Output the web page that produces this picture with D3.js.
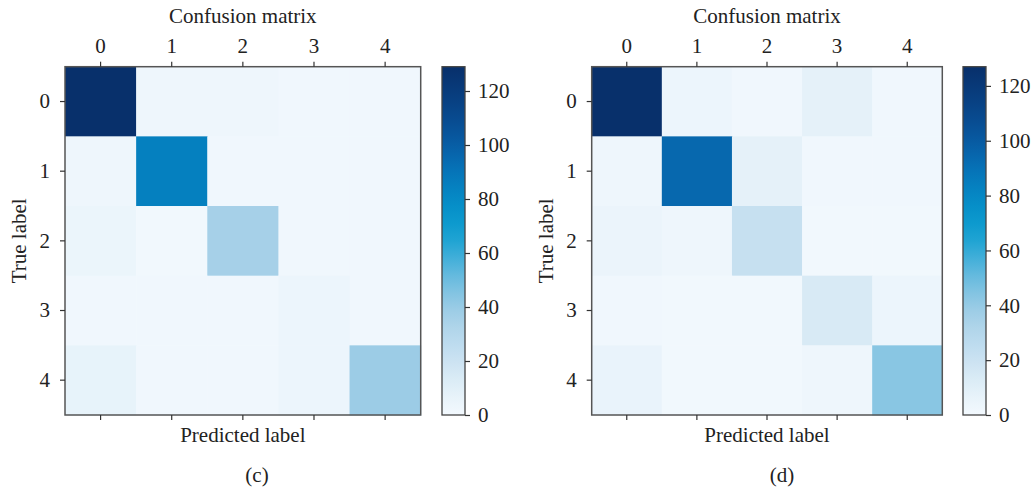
<!DOCTYPE html>
<html>
<head>
<meta charset="utf-8">
<script src="https://cdn.jsdelivr.net/npm/d3@7"></script>
<style>
  html, body { margin: 0; padding: 0; background: #fff; }
  svg { display: block; }
  text { font-family: "Liberation Serif", "Times New Roman", serif; fill: #222; }
</style>
</head>
<body>
<svg id="chart" width="1033" height="491"></svg>
<script>
// ---- data ----
const classLabels = ["0", "1", "2", "3", "4"];
const colorbarTicks = [0, 20, 40, 60, 80, 100, 120];
const titleText = "Confusion matrix";
const xAxisTitle = "Predicted label";
const yAxisTitle = "True label";
const captions = ["(c)", "(d)"];

// rows = true label, columns = predicted label
const matrixC = [
  [129, 3, 3, 2, 2],
  [3, 85, 2, 2, 2],
  [5, 1, 36, 2, 2],
  [2, 2, 2, 4, 2],
  [7, 2, 2, 4, 39]
];
const matrixD = [
  [127, 4, 2, 8, 2],
  [3, 94, 8, 2, 2],
  [5, 3, 22, 1, 1],
  [2, 1, 1, 14, 4],
  [6, 1, 1, 3, 43]
];

// ---- colormap (style) ----
const cmapStops = ["#f3f9fe", "#e4f1f9", "#cfe4f2", "#b9daee", "#a7d0e7", "#7fc2e2", "#55b5dc",
                   "#1aa3d3", "#0596cc", "#0585c2", "#0670b6", "#085aa2", "#08488e", "#083c7c", "#08306b"];
const cmap = d3.interpolateRgbBasis(cmapStops);

const svg = d3.select("#chart");

const panels = [
  { data: matrixC, caption: captions[0], x0: 65, x1: 420.7, y0: 66.7, y1: 415,
    cbx0: 442, cbx1: 465, ylabX: 19, capX: 257 },
  { data: matrixD, caption: captions[1], x0: 591.7, x1: 942.3, y0: 66.7, y1: 415,
    cbx0: 963, cbx1: 986, ylabX: 546, capX: 782 }
];

const fontSize = 21;

panels.forEach((p, pi) => {
  const g = svg.append("g");
  const vmax = d3.max(p.data.flat());
  const vmin = 0;
  const color = d3.scaleSequential(cmap).domain([vmin, vmax]);

  const x = d3.scaleBand().domain(classLabels).range([p.x0, p.x1]).padding(0);
  const y = d3.scaleBand().domain(classLabels).range([p.y0, p.y1]).padding(0);

  const cells = [];
  p.data.forEach((row, i) => row.forEach((v, j) => cells.push({ r: classLabels[i], c: classLabels[j], v })));

  g.append("g").selectAll("rect").data(cells).join("rect")
    .attr("x", d => x(d.c))
    .attr("y", d => y(d.r))
    .attr("width", x.bandwidth() + 0.5)
    .attr("height", y.bandwidth() + 0.5)
    .attr("fill", d => color(d.v));

  // frame
  g.append("rect")
    .attr("x", p.x0).attr("y", p.y0)
    .attr("width", p.x1 - p.x0).attr("height", p.y1 - p.y0)
    .attr("fill", "none").attr("stroke", "#555").attr("stroke-width", 1.5);

  const styleAxis = sel => {
    sel.select(".domain").remove();
    sel.selectAll(".tick line").attr("stroke", "#333").attr("stroke-width", 1.2);
    sel.selectAll(".tick text").attr("font-size", fontSize).attr("fill", "#222")
      .attr("font-family", "Liberation Serif, serif");
  };

  g.append("g").attr("transform", `translate(0,${p.y0})`)
    .call(d3.axisTop(x).tickSize(5).tickPadding(9)).call(styleAxis);
  g.append("g").attr("transform", `translate(0,${p.y1})`)
    .call(d3.axisBottom(x).tickSize(5).tickFormat("")).call(styleAxis);
  g.append("g").attr("transform", `translate(${p.x0},0)`)
    .call(d3.axisLeft(y).tickSize(5).tickPadding(10)).call(styleAxis);

  // title
  g.append("text")
    .attr("x", (p.x0 + p.x1) / 2).attr("y", 23)
    .attr("text-anchor", "middle").attr("font-size", fontSize)
    .text(titleText);

  // axis titles
  g.append("text")
    .attr("x", (p.x0 + p.x1) / 2).attr("y", 442)
    .attr("text-anchor", "middle").attr("font-size", fontSize)
    .text(xAxisTitle);
  g.append("text")
    .attr("transform", `translate(${p.ylabX},${(p.y0 + p.y1) / 2}) rotate(-90)`)
    .attr("text-anchor", "middle").attr("dy", "0.35em").attr("font-size", fontSize)
    .text(yAxisTitle);

  // caption
  g.append("text")
    .attr("x", p.capX).attr("y", 482)
    .attr("text-anchor", "middle").attr("font-size", fontSize)
    .text(p.caption);

  // colorbar
  const cy = d3.scaleLinear().domain([vmin, vmax]).range([p.y1, p.y0]);
  const gradId = "grad" + pi;
  const grad = svg.append("defs").append("linearGradient")
    .attr("id", gradId).attr("x1", 0).attr("y1", 1).attr("x2", 0).attr("y2", 0);
  d3.range(0, 1.0001, 0.05).forEach(t => {
    grad.append("stop").attr("offset", t).attr("stop-color", cmap(t));
  });
  g.append("rect")
    .attr("x", p.cbx0).attr("y", p.y0)
    .attr("width", p.cbx1 - p.cbx0).attr("height", p.y1 - p.y0)
    .attr("fill", `url(#${gradId})`)
    .attr("stroke", "#444").attr("stroke-width", 1.3);
  g.append("g").attr("transform", `translate(${p.cbx1},0)`)
    .call(d3.axisRight(cy).tickValues(colorbarTicks).tickSize(5).tickPadding(8))
    .call(styleAxis);
});
</script>
</body>
</html>
